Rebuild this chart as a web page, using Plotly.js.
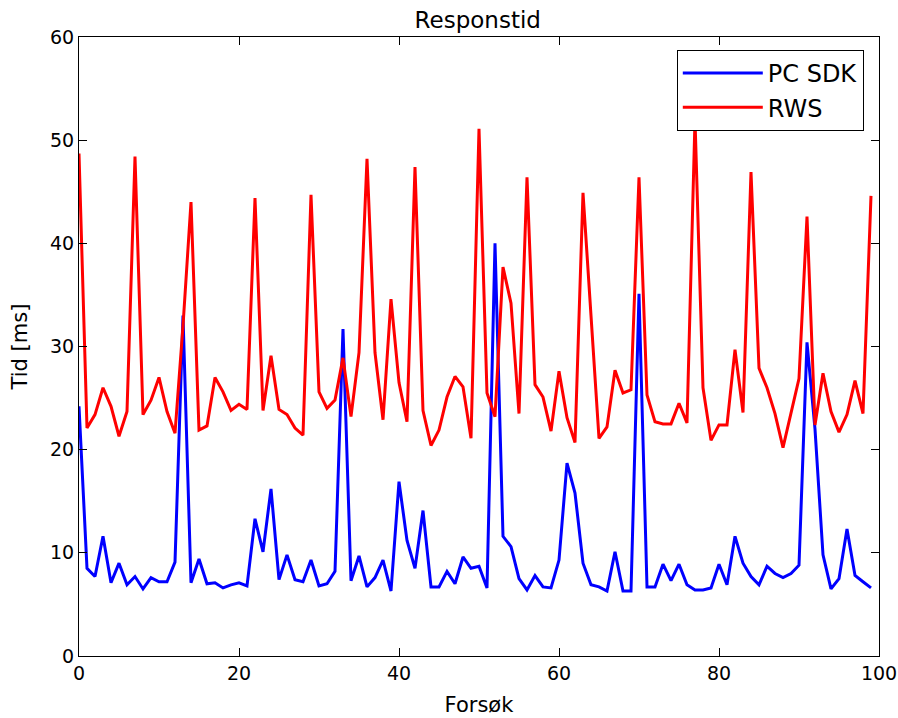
<!DOCTYPE html>
<html>
<head>
<meta charset="utf-8">
<script src="https://cdn.plot.ly/plotly-3.0.1.min.js"></script>
<style>
html,body{margin:0;padding:0;background:#fff;}
#chart{width:898px;height:718px;}
</style>
</head>
<body>
<div id="chart"></div>
<script>
// Trial numbers (Forsøk)
const forsok = Array.from({length: 100}, (_, i) => i);

// PC SDK response times [ms]
const pcSdk = [
  24.2, 8.5, 7.7, 11.6, 7.1, 9.0, 6.9, 7.7, 6.5, 7.6,
  7.2, 7.2, 9.1, 33.0, 7.1, 9.4, 7.0, 7.1, 6.6, 6.9,
  7.1, 6.8, 13.3, 10.1, 16.2, 7.4, 9.8, 7.4, 7.2, 9.3,
  6.8, 7.0, 8.2, 31.7, 7.3, 9.7, 6.7, 7.6, 9.3, 6.3,
  16.9, 11.2, 8.5, 14.1, 6.7, 6.7, 8.2, 7.0, 9.6, 8.5,
  8.7, 6.6, 40.0, 11.6, 10.6, 7.5, 6.4, 7.8, 6.7, 6.6,
  9.3, 18.7, 15.8, 9.0, 6.9, 6.7, 6.3, 10.1, 6.3, 6.3,
  35.1, 6.7, 6.7, 8.9, 7.3, 8.9, 6.9, 6.4, 6.4, 6.6,
  8.9, 6.9, 11.6, 9.0, 7.7, 6.9, 8.7, 8.0, 7.6, 8.0,
  8.8, 30.4, 22.0, 9.8, 6.5, 7.5, 12.3, 7.8, 7.2, 6.6
];

// RWS response times [ms]
const rws = [
  48.7, 22.1, 23.4, 26.0, 24.2, 21.3, 23.7, 48.4, 23.4, 24.8,
  27.0, 23.7, 21.6, 32.0, 44.0, 21.9, 22.3, 27.0, 25.6, 23.8,
  24.4, 23.9, 44.4, 23.8, 29.1, 23.9, 23.4, 22.1, 21.4, 44.7,
  25.6, 24.0, 24.8, 28.9, 23.2, 29.4, 48.2, 29.4, 22.9, 34.6,
  26.5, 22.7, 47.4, 23.8, 20.4, 21.9, 25.1, 27.1, 26.1, 21.1,
  51.1, 25.5, 23.2, 37.7, 34.2, 23.5, 46.4, 26.3, 25.1, 21.8,
  27.6, 23.1, 20.7, 44.9, 33.0, 21.1, 22.2, 27.7, 25.5, 25.8,
  46.4, 25.3, 22.7, 22.5, 22.5, 24.5, 22.6, 52.0, 26.0, 20.9,
  22.4, 22.4, 29.7, 23.6, 46.9, 27.9, 26.0, 23.5, 20.2, 23.4,
  26.9, 42.6, 22.4, 27.4, 23.7, 21.7, 23.4, 26.7, 23.5, 44.6
];

const seriesNames = ["PC SDK", "RWS"];
const xTicks = [0, 20, 40, 60, 80, 100];
const yTicks = [0, 10, 20, 30, 40, 50, 60];

const font = "DejaVu Sans, Liberation Sans, sans-serif";

const traces = [
  {x: forsok, y: pcSdk, name: seriesNames[0], type: "scatter", mode: "lines",
   line: {color: "#0000ff", width: 3}},
  {x: forsok, y: rws, name: seriesNames[1], type: "scatter", mode: "lines",
   line: {color: "#ff0000", width: 3}}
];

const axisCommon = {
  showgrid: false, zeroline: false,
  showline: true, linecolor: "#000", linewidth: 1, mirror: "ticks",
  ticks: "inside", ticklen: 8, tickwidth: 1, tickcolor: "#000",
  tickfont: {family: font, size: 19, color: "#000"}
};

const layout = {
  width: 898, height: 718,
  margin: {l: 79, r: 19, t: 37, b: 62},
  paper_bgcolor: "#fff", plot_bgcolor: "#fff",
  font: {family: font, color: "#000"},
  title: {text: "Responstid", font: {family: font, size: 23, color: "#000"},
          x: 0.532, xanchor: "center", y: 0.972, yanchor: "middle"},
  xaxis: Object.assign({}, axisCommon, {
    range: [0, 100], tickvals: xTicks, ticktext: xTicks.map(String),
    title: {text: "Forsøk", font: {family: font, size: 21, color: "#000"}, standoff: 14}
  }),
  yaxis: Object.assign({}, axisCommon, {
    range: [0, 60], tickvals: yTicks, ticktext: yTicks.map(String),
    title: {text: "Tid [ms]", font: {family: font, size: 21, color: "#000"}, standoff: 16}
  }),
  showlegend: true,
  legend: {
    x: 0.981, xanchor: "right", y: 0.979, yanchor: "top",
    bgcolor: "#fff", bordercolor: "#000", borderwidth: 1,
    font: {family: font, size: 24, color: "#000"},
    itemwidth: 80, tracegroupgap: 0
  }
};

Plotly.newPlot("chart", traces, layout, {displayModeBar: false, staticPlot: true});
</script>
</body>
</html>
